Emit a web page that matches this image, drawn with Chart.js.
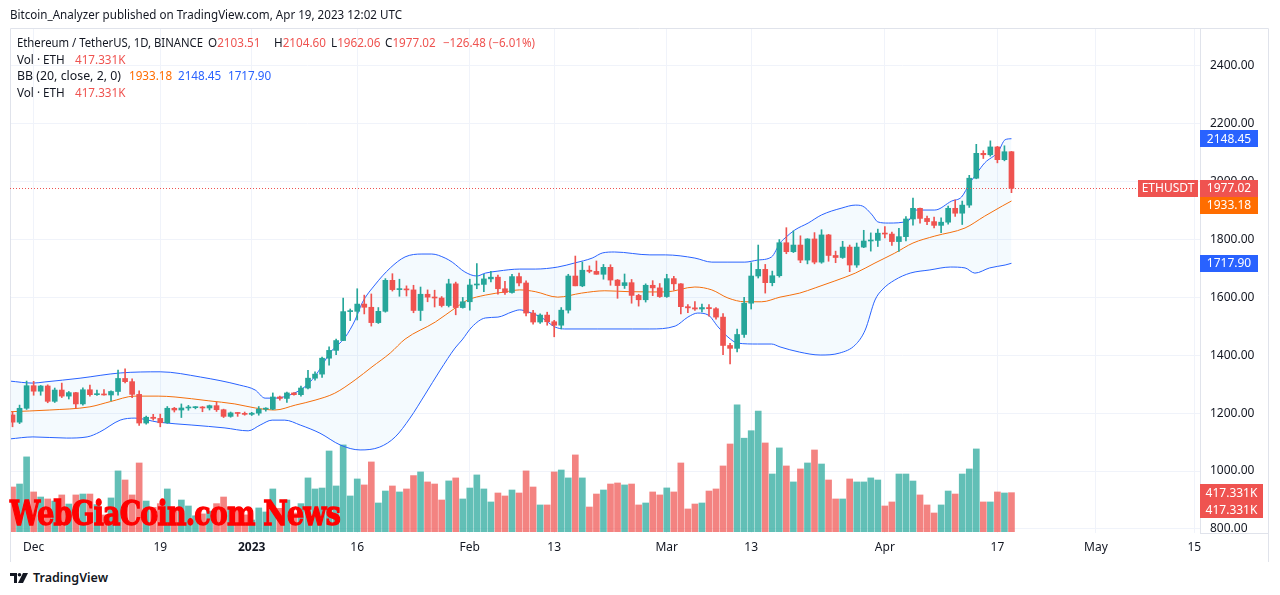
<!DOCTYPE html>
<html>
<head>
<meta charset="utf-8">
<script src="https://cdn.jsdelivr.net/npm/chart.js@4.4.0/dist/chart.umd.min.js"></script>
<style>
  html, body { margin: 0; padding: 0; background: #fff; }
  body { width: 1280px; height: 595px; position: relative; overflow: hidden;
         font-family: "Noto Sans", sans-serif; color: #131722; }
  #wrap { position: absolute; left: 0; top: 0; width: 1280px; height: 562px; }
  .t { position: absolute; white-space: nowrap; font-size: 11.7px; line-height: 16px; transform-origin: 0 0; }
  .red { color: #ef5350; }
  .org { color: #ff6d00; }
  .blu { color: #2962ff; }
  #wm { position: absolute; left: 10px; top: 493px; font: bold 34px "DejaVu Serif", serif;
        color: #ff0000; white-space: nowrap; transform-origin: 0 0; letter-spacing: -1px;
        -webkit-text-stroke: 1.4px #ff0000; }
  #foot { position: absolute; left: 10px; top: 569px; display: flex; align-items: center; gap: 5px;
          font-size: 12.5px; font-weight: 600; color: #131722; }
</style>
</head>
<body>
<div id="wrap"><canvas id="chart" width="1280" height="562"></canvas></div>

<div class="t" data-w="392" style="left:10px; top:6px; color:#131722;">Bitcoin_Analyzer published on TradingView.com, Apr 19, 2023 12:02 UTC</div>

<div class="t" data-w="186" style="left:17px; top:34px;">Ethereum / TetherUS, 1D, BINANCE</div>
<div class="t" style="left:208px; top:34px;">O<span class="red">2103.51</span></div>
<div class="t" style="left:274px; top:34px;">H<span class="red">2104.60</span></div>
<div class="t" style="left:331px; top:34px;">L<span class="red">1962.06</span></div>
<div class="t" style="left:385px; top:34px;">C<span class="red">1977.02</span></div>
<div class="t red" data-w="92" style="left:443px; top:34px;">−126.48 (−6.01%)</div>

<div class="t" style="left:17px; top:51px;">Vol · ETH</div>
<div class="t red" style="left:75px; top:51px;">417.331K</div>

<div class="t" data-w="104" style="left:17px; top:67px;">BB (20, close, 2, 0)</div>
<div class="t org" style="left:129px; top:67px;">1933.18</div>
<div class="t blu" style="left:178px; top:67px;">2148.45</div>
<div class="t blu" style="left:228px; top:67px;">1717.90</div>

<div class="t" style="left:17px; top:84px;">Vol · ETH</div>
<div class="t red" style="left:75px; top:84px;">417.331K</div>

<div id="wm">WebGiaCoin.com News</div>

<div id="foot">
  <svg width="18" height="10" viewBox="0 0 18 10"><path d="M0 0h7v10H4V3H0z" fill="#131722"/><circle cx="9.5" cy="1.8" r="1.8" fill="#131722"/><path d="M13 0h5l-5 10H8z" fill="#131722"/></svg>
  <span>TradingView</span>
</div>

<script>
// daily candles, index 0 = 2022-11-28, last = 2023-04-19
const opens = [1194,1169,1217,1295,1276,1294,1241,1280,1259,1271,1232,1281,1264,1266,1263,1275,1320,1309,1265,1166,
  1186,1182,1167,1217,1211,1218,1219,1221,1218,1226,1212,1189,1201,1199,1196,1200,1214,1214,1256,1251,
  1270,1264,1287,1321,1335,1390,1417,1451,1551,1552,1577,1566,1513,1552,1659,1627,1628,1626,1555,1611,
  1601,1598,1572,1647,1565,1585,1643,1645,1664,1670,1630,1617,1672,1650,1546,1515,1539,1516,1504,1556,
  1674,1640,1694,1690,1680,1704,1660,1641,1651,1607,1592,1642,1633,1603,1665,1647,1568,1564,1560,1565,
  1561,1532,1434,1424,1472,1580,1674,1697,1651,1675,1789,1758,1781,1729,1802,1722,1816,1745,1738,1774,
  1712,1774,1795,1797,1822,1819,1793,1810,1871,1908,1873,1862,1849,1860,1908,1891,1919,2012,2098,2093,
  2120,2076,2103.51];
const highs = [1205,1228,1311,1310,1296,1298,1287,1304,1275,1272,1288,1297,1280,1282,1277,1349,1353,1319,1277,1190,
  1196,1197,1223,1220,1232,1227,1223,1223,1228,1238,1214,1204,1202,1204,1203,1223,1219,1270,1259,1273,
  1271,1294,1348,1343,1394,1429,1456,1598,1560,1630,1608,1612,1565,1665,1682,1663,1640,1642,1636,1626,
  1625,1603,1663,1653,1600,1663,1717,1680,1690,1677,1656,1680,1684,1657,1555,1543,1549,1521,1565,1680,
  1743,1722,1709,1726,1714,1713,1662,1681,1662,1611,1647,1658,1648,1680,1673,1648,1575,1586,1577,1575,
  1565,1544,1441,1491,1600,1720,1781,1714,1691,1800,1841,1830,1813,1803,1824,1834,1818,1760,1794,1781,
  1788,1832,1823,1836,1845,1826,1839,1879,1943,1909,1881,1878,1875,1916,1937,1933,2022,2129,2107,2141,
  2122,2124,2104.60];
const lows = [1153,1164,1213,1262,1262,1236,1237,1254,1249,1217,1228,1259,1261,1262,1242,1262,1305,1254,1158,1162,
  1176,1153,1165,1204,1185,1210,1215,1205,1211,1206,1185,1186,1189,1193,1192,1193,1207,1212,1245,1237,
  1262,1259,1284,1314,1324,1366,1402,1451,1520,1522,1543,1501,1510,1549,1622,1604,1605,1547,1520,1585,
  1567,1567,1567,1540,1563,1556,1630,1620,1654,1611,1610,1615,1640,1536,1508,1510,1504,1464,1491,1546,
  1640,1637,1685,1680,1663,1642,1597,1631,1580,1570,1584,1606,1600,1600,1625,1543,1547,1555,1550,1535,
  1525,1402,1370,1412,1462,1560,1667,1615,1640,1670,1751,1755,1720,1716,1716,1718,1725,1720,1735,1689,
  1704,1772,1760,1776,1806,1780,1759,1795,1850,1857,1851,1840,1824,1853,1880,1852,1911,2010,2080,2088,
  2065,2072,1962.06];
const closes = [1169,1217,1295,1276,1294,1241,1280,1259,1271,1232,1281,1264,1266,1263,1275,1320,1309,1265,1166,1186,
  1182,1167,1217,1211,1218,1219,1221,1218,1226,1212,1189,1201,1199,1196,1200,1214,1214,1256,1251,1270,
  1264,1287,1321,1335,1390,1417,1451,1551,1552,1577,1566,1513,1552,1659,1627,1628,1626,1555,1611,1601,
  1598,1572,1647,1565,1585,1643,1645,1664,1670,1630,1617,1672,1650,1546,1515,1539,1516,1504,1556,1674,
  1640,1694,1690,1680,1704,1660,1641,1651,1607,1592,1642,1633,1603,1665,1647,1568,1564,1560,1565,1561,
  1532,1434,1424,1472,1580,1674,1697,1651,1675,1789,1758,1781,1729,1802,1722,1816,1745,1738,1774,1712,
  1774,1795,1797,1822,1819,1793,1810,1871,1908,1873,1862,1849,1860,1908,1891,1919,2012,2098,2093,2120,
  2076,2103.51,1977.02];
// volume in thousands of ETH
const volumes = [478,510,800,425,371,350,328,393,296,393,403,403,290,179,361,650,553,393,735,328,
  260,300,457,250,339,275,170,190,220,300,371,260,220,180,125,254,211,457,250,339,
  200,300,575,457,467,863,489,928,382,564,500,746,307,435,489,425,457,600,639,532,
  510,339,543,575,350,467,607,457,318,414,382,446,414,650,478,286,286,639,660,575,
  821,575,264,403,446,510,521,500,510,286,307,425,393,468,425,735,243,296,307,435,
  457,703,938,1356,1000,1080,1290,949,617,896,703,532,671,735,874,724,553,350,350,564,
  532,532,575,553,275,318,617,617,542,393,286,200,286,435,403,617,671,885,318,318,
  425,414,417.331];

// Bollinger band readings: [day index, price]
const bbUpper = [[-0.4,1311],[2.9,1304],[4.6,1308],[9.6,1321],[15.3,1339],[21,1343],[26.7,1325],[32.3,1297],
  [34.5,1280],[35.9,1252],[37.3,1252],[38.5,1256],[40.9,1280],[42.3,1308],[43.5,1345],[45.1,1408],[47.3,1463],
  [48.7,1522],[49.7,1581],[51.5,1643],[53.7,1702],[55.8,1740],[58.2,1750],[59.6,1750],[61.5,1736],[62.5,1722],
  [64.3,1688],[66,1674],[67.2,1684],[69,1691],[72.1,1698],[74.3,1698],[77.5,1705],[79.9,1719],[82.4,1736],
  [83.9,1754],[85.6,1757],[90.6,1747],[92.8,1747],[97,1736],[99.4,1722],[101.7,1722],[104.1,1722],[105.9,1729],
  [107.9,1740],[109.1,1788],[109.8,1805],[111.2,1833],[113.1,1857],[115,1885],[117.9,1909],[119.8,1919],
  [120.8,1916],[122.2,1885],[123,1861],[124.5,1857],[127.3,1864],[128.3,1902],[131.1,1902],[133.5,1933],
  [134.9,1947],[136.1,1996],[137.1,2030],[138.2,2065],[140.1,2103],[141.1,2145],[142,2148.45]];
const bbBasis = [[-0.4,1205],[5.3,1211],[11,1222],[13.9,1240],[17.4,1259],[20.7,1259],[23.1,1256],[27.8,1243],
  [31.6,1232],[34.5,1218],[37.3,1211],[40.2,1228],[43,1245],[45.8,1269],[48.7,1315],[51.1,1360],[53.7,1408],
  [55.8,1456],[60.1,1515],[62.9,1563],[64.7,1591],[67.2,1608],[70,1619],[72.1,1626],[74.3,1620],[77.5,1601],
  [80.9,1615],[84.2,1623],[87.5,1620],[90.6,1619],[92.8,1619],[97,1636],[99.4,1626],[101.7,1598],[104.1,1585],
  [106.5,1585],[109.1,1601],[111.9,1615],[114.1,1633],[116.9,1657],[119.8,1684],[122.6,1719],[125.4,1753],
  [128,1788],[131.1,1812],[135.4,1840],[138.2,1881],[140.7,1916],[142,1933.18]];
const bbLower = [[-0.4,1111],[2.9,1118],[7.7,1114],[10.6,1118],[12.4,1135],[15.3,1176],[17.4,1183],[20.7,1169],
  [25.5,1159],[30.2,1149],[33.5,1139],[35.2,1159],[36.9,1176],[38.7,1176],[40.9,1159],[43.7,1131],[46.6,1090],
  [49.4,1073],[52.2,1083],[54.4,1118],[56.5,1183],[58.6,1263],[60.8,1349],[62.9,1425],[63.9,1453],[65.3,1498],
  [67.2,1529],[69,1532],[71,1550],[72.1,1557],[73.3,1550],[75.3,1529],[77.1,1498],[78.5,1491],[83.2,1491],
  [88.1,1491],[90.6,1491],[94.2,1501],[96,1532],[97.4,1546],[98.9,1539],[100.3,1498],[101.7,1463],[103.1,1442],
  [105.9,1439],[107.9,1439],[109.1,1429],[111.9,1411],[114.8,1401],[117.6,1408],[119.8,1436],[121.2,1487],
  [122.6,1591],[123.6,1626],[125.4,1660],[127.6,1684],[130.4,1695],[133.3,1705],[135.4,1702],[136.8,1684],
  [138.9,1702],[141.1,1712],[142,1717.9]];

const xTickDays = [3, 21, 34, 49, 65, 77, 93, 105, 124, 140, 154, 168];
const xTickLabels = ["Dec", "19", "2023", "16", "Feb", "13", "Mar", "13", "Apr", "17", "May", "15"];
const priceTicks = [800, 1000, 1200, 1400, 1600, 1800, 2000, 2200, 2400];

const GREEN = "#26a69a", RED = "#ef5350";
const FONT = '"Noto Sans", sans-serif';
const days = opens.map((_, i) => i);
const isUp = i => closes[i] >= opens[i];
const candleColors = days.map(i => isUp(i) ? GREEN : RED);
const volColors = days.map(i => isUp(i) ? "rgba(38,166,154,0.72)" : "rgba(239,83,80,0.72)");
const last = days.length - 1;

// squeeze texts to the widths they have in the picture
const wm = document.getElementById("wm");
wm.style.transform = "scaleX(" + (330 / wm.getBoundingClientRect().width) + ")";
document.querySelectorAll("[data-w]").forEach(el => {
    el.style.transform = "scaleX(" + (Number(el.dataset.w) / el.getBoundingClientRect().width) + ")";
});

/* ---------- extra drawing: frame, last price line and axis tags ---------- */
function tag(ctx, y, text, bg, x, w) {
    ctx.fillStyle = bg;
    ctx.fillRect(x, Math.round(y - 8.5), w, 17);
    ctx.fillStyle = "#fff";
    ctx.font = "12px " + FONT;
    ctx.textAlign = "center";
    ctx.textBaseline = "middle";
    ctx.fillText(text, x + w / 2, y + 0.5);
}

const overlay = {
    id: "overlay",
    afterDraw(chart) {
        const ctx = chart.ctx;
        const a = chart.chartArea;
        const y = chart.scales.y;
        const yv = chart.scales.yVol;
        ctx.save();

        // pane frame
        ctx.strokeStyle = "#e0e3eb";
        ctx.lineWidth = 1;
        ctx.beginPath();
        ctx.moveTo(a.left + 0.5, 562); ctx.lineTo(a.left + 0.5, 28.5); ctx.lineTo(1268.5, 28.5); ctx.lineTo(1268.5, 562);
        ctx.moveTo(a.right, a.bottom + 0.5); ctx.lineTo(1268.5, a.bottom + 0.5);
        ctx.stroke();

        // last price dotted line
        const cy = Math.round(y.getPixelForValue(closes[last])) + 0.5;
        ctx.strokeStyle = RED;
        ctx.setLineDash([1, 2]);
        ctx.beginPath();
        ctx.moveTo(a.left, cy); ctx.lineTo(1138, cy);
        ctx.stroke();
        ctx.setLineDash([]);

        // price tags on the right axis
        let tags = [
            { v: bbUpper[bbUpper.length - 1][1], bg: "#2962ff" },
            { v: closes[last], bg: RED },
            { v: bbBasis[bbBasis.length - 1][1], bg: "#ff6d00" },
            { v: bbLower[bbLower.length - 1][1], bg: "#2962ff" }
        ].map(t => ({ ...t, py: y.getPixelForValue(t.v) })).sort((p, q) => p.py - q.py);
        for (let i = 1; i < tags.length; i++) {
            if (tags[i].py < tags[i - 1].py + 17) tags[i].py = tags[i - 1].py + 17;
        }
        tags.forEach(t => tag(ctx, t.py, t.v.toFixed(2), t.bg, a.right, 58));
        tag(ctx, cy, "ETHUSDT", RED, 1138, 60);

        // volume tags (two volume studies)
        const vy = yv.getPixelForValue(volumes[last]);
        const vText = volumes[last].toFixed(3) + "K";
        tag(ctx, vy, vText, RED, a.right, 63);
        tag(ctx, vy + 17, vText, RED, a.right, 63);
        ctx.restore();
    }
};

new Chart(document.getElementById("chart"), {
    type: "bar",
    data: {
        datasets: [
            {
                label: "wick",
                data: days.map(i => ({ x: i, y: [lows[i], highs[i]] })),
                backgroundColor: candleColors,
                barThickness: 1,
                grouped: false,
                yAxisID: "y",
                order: 1
            },
            {
                label: "body",
                data: days.map(i => ({ x: i, y: [opens[i], closes[i]] })),
                backgroundColor: candleColors,
                barThickness: 5,
                minBarLength: 1,
                grouped: false,
                yAxisID: "y",
                order: 0
            },
            {
                type: "line",
                label: "upper",
                data: bbUpper.map(p => ({ x: p[0], y: p[1] })),
                borderColor: "#2962ff",
                borderWidth: 1,
                pointRadius: 0,
                cubicInterpolationMode: "monotone",
                fill: 4,
                backgroundColor: "rgba(33,150,243,0.05)",
                yAxisID: "y",
                order: 3
            },
            {
                type: "line",
                label: "basis",
                data: bbBasis.map(p => ({ x: p[0], y: p[1] })),
                borderColor: "#ff6d00",
                borderWidth: 1,
                pointRadius: 0,
                cubicInterpolationMode: "monotone",
                fill: false,
                yAxisID: "y",
                order: 3
            },
            {
                type: "line",
                label: "lower",
                data: bbLower.map(p => ({ x: p[0], y: p[1] })),
                borderColor: "#2962ff",
                borderWidth: 1,
                pointRadius: 0,
                cubicInterpolationMode: "monotone",
                fill: false,
                yAxisID: "y",
                order: 3
            },
            {
                label: "volume",
                data: days.map(i => ({ x: i, y: volumes[i] })),
                backgroundColor: volColors,
                barThickness: 6,
                grouped: false,
                yAxisID: "yVol",
                order: 6
            }
        ]
    },
    options: {
        responsive: false,
        animation: false,
        devicePixelRatio: 1,
        layout: { padding: { left: 10, top: 28, right: 12, bottom: 0 } },
        plugins: { legend: { display: false }, tooltip: { enabled: false } },
        scales: {
            x: {
                type: "linear",
                min: -0.36,
                max: 168.8,
                offset: false,
                grid: { color: "#f0f3fa", offset: false, drawTicks: false },
                border: { display: false },
                ticks: {
                    padding: 7,
                    color: "#131722",
                    autoSkip: false,
                    maxRotation: 0,
                    font: ctx => ({ family: FONT, size: 12, weight: xTickLabels[ctx.index] === "2023" ? "bold" : "normal" }),
                    callback: (v, idx) => xTickLabels[idx]
                },
                afterBuildTicks: s => { s.ticks = xTickDays.map(v => ({ value: v })); },
                afterFit: s => { s.height = 29; }
            },
            y: {
                position: "right",
                min: 786,
                max: 2531,
                beginAtZero: false,
                grid: { color: "#f0f3fa", drawTicks: false },
                border: { display: true, color: "#e0e3eb" },
                ticks: {
                    padding: 10,
                    color: "#131722",
                    font: { family: FONT, size: 12 },
                    callback: v => Number(v).toFixed(2)
                },
                afterBuildTicks: s => { s.ticks = priceTicks.map(v => ({ value: v })); },
                afterFit: s => { s.width = 68; }
            },
            yVol: {
                display: false,
                min: -14,
                max: 5387
            }
        }
    },
    plugins: [overlay]
});
</script>
</body>
</html>
